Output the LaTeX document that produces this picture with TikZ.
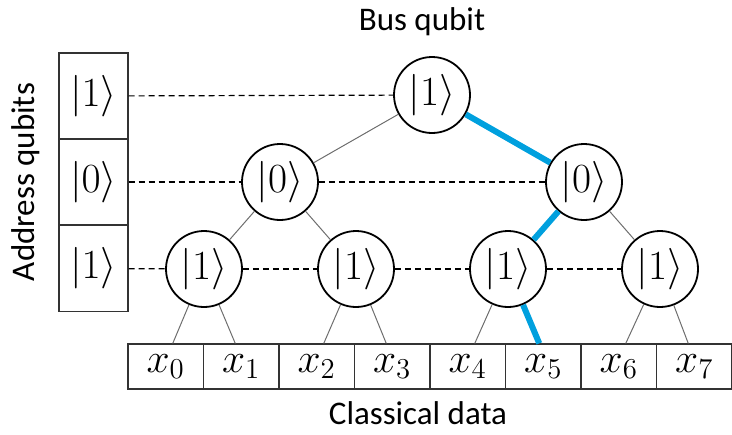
\documentclass[tikz,border=0pt]{standalone}
\usepackage[no-math]{fontspec}
\setmainfont{Carlito}
\usetikzlibrary{positioning,calc}
\definecolor{busblue}{RGB}{0,160,222}
\definecolor{edgegray}{RGB}{110,110,110}
\tikzset{
  qubit/.style={circle,draw=black,line width=0.9pt,minimum size=38pt,inner sep=0pt,
    font=\fontsize{20.5}{22}\selectfont},
  addr/.style={draw=black!80,line width=0.6pt,minimum width=34.5pt,minimum height=43pt,
    inner sep=0pt,font=\fontsize{20.5}{22}\selectfont},
  cell/.style={draw=black!80,line width=0.6pt,minimum width=37.75pt,minimum height=22.5pt,
    inner sep=0pt,font=\fontsize{21.5}{23}\selectfont},
  link/.style={draw=edgegray,line width=0.5pt},
  route/.style={draw=busblue,line width=3pt},
  level/.style={dash pattern=on 3pt off 2pt,line width=0.6pt},
  tag/.style={font=\fontsize{16.5}{19}\selectfont},
}

\begin{document}
\begin{tikzpicture}[x=0.5pt,y=-0.5pt]
  \useasboundingbox (0,0) rectangle (732,434);
  % tree of qubits
  \node[qubit] (t) at (432,95) {$|1\rangle$};
  \node[qubit] (m1) at (280,182) {$|0\rangle$};
  \node[qubit] (m2) at (584,182) {$|0\rangle$};
  \foreach \i/\x in {1/204,2/356,3/508,4/660}
    \node[qubit] (b\i) at (\x,269) {$|1\rangle$};
  % address register
  \foreach \i/\y/\v in {1/96/1,2/182/0,3/268.5/1}
    \node[addr] (a\i) at (93.5,\y) {$|\v\rangle$};
  % classical data
  \foreach \i in {0,...,7}
    \node[cell] (d\i) at ({128+75.5*(\i+0.5)},366.5) {$x_{\i}$};
  % labels
  \node[tag] (bus) at (422,22) {Bus qubit};
  \node[tag] (data) at (418,413) {Classical data};
  \node[tag,rotate=90] (addrlab) at (26,182) {Address qubits};
  % dashed levels
  \draw[level] (a1) -- (t);
  \draw[level] (a2) -- (m1);
  \draw[level] (m1) -- (m2);
  \draw[level] (a3) -- (b1);
  \foreach \p/\q in {1/2,2/3,3/4}
    \draw[level] (b\p) -- (b\q);
  % branches
  \draw[link] (t) -- (m1);
  \draw[link] (m1) -- (b1);
  \draw[link] (m1) -- (b2);
  \draw[link] (m2) -- (b4);
  \draw[link] (b1) -- ([xshift=3.5pt]d0.north);
  \draw[link] (b1) -- ([xshift=-3pt]d1.north);
  \draw[link] (b2) -- ([xshift=3.5pt]d2.north);
  \draw[link] (b2) -- ([xshift=-3pt]d3.north);
  \draw[link] (b3) -- ([xshift=3.5pt]d4.north);
  \draw[link] (b4) -- ([xshift=3.5pt]d6.north);
  \draw[link] (b4) -- ([xshift=-3pt]d7.north);
  % selected route
  \draw[route] (t) -- (m2);
  \draw[route] (m2) -- (b3);
  \draw[route] (b3) -- ([xshift=-2pt]d5.north);
\end{tikzpicture}
\end{document}
